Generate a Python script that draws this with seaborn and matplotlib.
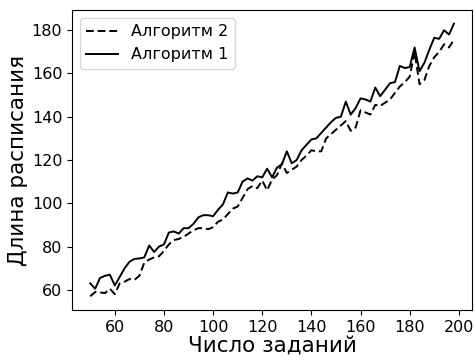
import matplotlib
matplotlib.use("Agg")
import matplotlib.pyplot as plt
import seaborn as sns
import numpy as np
import pandas as pd

x_tasks = list(range(50, 199, 2))

alg1 = [63, 60.5, 65.5, 66.5, 67, 62, 66, 70, 73, 74.3,
        74.5, 75, 80.5, 77.5, 80, 81, 86.5, 87, 86, 88.5,
        88.5, 90.5, 93.5, 94.5, 94.5, 94, 97, 99.5, 105, 104.5,
        105, 110, 111.5, 110.5, 112.5, 112, 116, 112, 116.5, 118,
        124, 118.5, 120, 124.5, 127, 129.5, 130, 132.5, 135, 137.5,
        139.5, 140, 147, 141, 144, 148.5, 148, 147, 153.5, 149.5,
        152.5, 155.5, 156, 163.5, 162.5, 163, 172, 161, 165, 171,
        176.5, 176, 180, 178, 183]

alg2 = [57, 59, 58.8, 58.5, 60.5, 58, 63, 63.8, 65, 64.6,
        66.5, 72.5, 74, 75, 75.5, 78, 81, 83, 83.5, 84.5,
        86, 87.5, 88.5, 88.5, 88, 89, 91.5, 92.5, 95, 97.5,
        98.5, 102.5, 106.5, 108, 107, 110.5, 106, 111, 113, 118.5,
        114, 115.5, 117, 120, 122, 124.5, 124, 124, 130, 132,
        134, 136, 138, 133.5, 135, 143, 142, 141, 145.5, 145,
        146.5, 148, 151, 154, 156, 158.5, 170, 155, 157, 163.5,
        167.5, 170, 173.5, 172, 175.5]

labels = ["Алгоритм 2", "Алгоритм 1"]

df = pd.DataFrame({
    "x": x_tasks * 2,
    "y": alg2 + alg1,
    "alg": [labels[0]] * len(x_tasks) + [labels[1]] * len(x_tasks),
})

fig = plt.figure(figsize=(4.74, 3.6), dpi=100)
ax = fig.add_axes([0.152, 0.139, 0.844, 0.833])

sns.lineplot(data=df, x="x", y="y", hue="alg", style="alg",
             palette={labels[0]: "black", labels[1]: "black"},
             dashes={labels[0]: (4, 2), labels[1]: ""},
             linewidth=1.4, ax=ax)

ax.set_xticks([60, 80, 100, 120, 140, 160, 180, 200])
ax.set_yticks([60, 80, 100, 120, 140, 160, 180])
ax.tick_params(labelsize=11.5)
ax.set_xlabel("Число заданий", fontsize=15.5, labelpad=1)
ax.set_ylabel("Длина расписания", fontsize=15.5, labelpad=3)
ax.legend(loc="upper left", fontsize=11.5, title=None)

fig.savefig("out.png", dpi=100)
